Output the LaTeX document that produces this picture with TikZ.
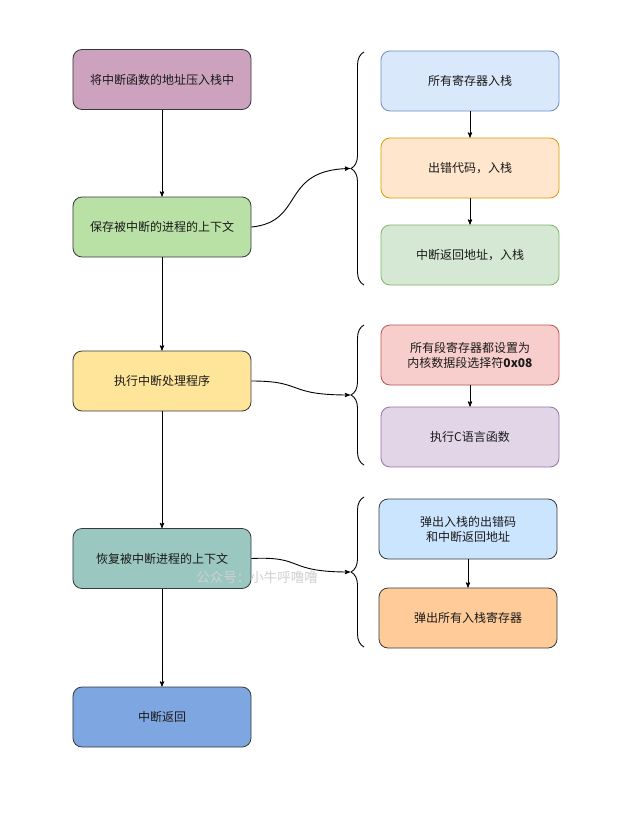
\documentclass[tikz,border=0pt]{standalone}
\usepackage{fontspec}
\newfontfamily\cjk{Noto Sans CJK SC}
\usetikzlibrary{arrows,shapes,positioning,decorations.pathreplacing}

\definecolor{edgegray}{HTML}{36393D}
\definecolor{txtgray}{HTML}{1A1A1A}

\tikzset{
  box/.style={draw=edgegray,rounded corners=9bp,minimum width=178bp,minimum height=60bp,
    align=center,font=\cjk\fontsize{12bp}{15bp}\selectfont,text=txtgray,line width=0.8pt},
  flow/.style={->,>=stealth',line width=0.9pt,black},
  grp/.style={decorate,decoration={brace,amplitude=13bp},line width=0.9pt}
}

\begin{document}
\begin{tikzpicture}[x=1bp,y=-1bp]
      % keep the page at the size of the reference
      \useasboundingbox (0,0) rectangle (629,815);

      % left column
      \node[box,fill={rgb,255:red,205;green,162;blue,190}] (push) at (162,79.5) {将中断函数的地址压入栈中};
      \node[box,fill={rgb,255:red,185;green,224;blue,165}] (save) at (162,227) {保存被中断的进程的上下文};
      \node[box,fill={rgb,255:red,255;green,229;blue,153}] (run) at (162,381) {执行中断处理程序};
      \node[box,fill={rgb,255:red,154;green,199;blue,191}] (restore) at (162,558.5) {恢复被中断进程的上下文};
      \node[box,fill={rgb,255:red,126;green,166;blue,224}] (ret) at (162,717) {中断返回};

      % right column, first group
      \node[box,draw={rgb,255:red,108;green,142;blue,191},fill={rgb,255:red,218;green,232;blue,252}] (regs) at (470,81) {所有寄存器入栈};
      \node[box,draw={rgb,255:red,215;green,155;blue,0},fill={rgb,255:red,255;green,230;blue,204}] (err) at (470,168) {出错代码，入栈};
      \node[box,draw={rgb,255:red,130;green,179;blue,102},fill={rgb,255:red,213;green,232;blue,212}] (addr) at (470,255) {中断返回地址，入栈};

      % right column, second group
      \node[box,draw={rgb,255:red,184;green,84;blue,80},fill={rgb,255:red,248;green,206;blue,204}] (seg) at (470,355) {所有段寄存器都设置为\\内核数据段选择符\textbf{0x08}};
      \node[box,draw={rgb,255:red,150;green,115;blue,166},fill={rgb,255:red,225;green,213;blue,231}] (cfun) at (470,437) {执行C语言函数};

      % right column, third group
      \node[box,fill={rgb,255:red,204;green,229;blue,255}] (pop) at (468,529) {弹出入栈的出错码\\和中断返回地址};
      \node[box,fill={rgb,255:red,255;green,204;blue,153}] (popall) at (468,618) {弹出所有入栈寄存器};

      % braces round each group
      \draw[grp] (364,285) -- (364,52);
      \draw[grp] (364,465) -- (364,325);
      \draw[grp] (364,647) -- (364,497);
      \coordinate (tipa) at (350,168.5);
      \coordinate (tipb) at (350,395);
      \coordinate (tipc) at (350,572);

      % main flow
      \draw[flow] (push) -- (save);
      \draw[flow] (save) -- (run);
      \draw[flow] (run) -- (restore);
      \draw[flow] (restore) -- (ret);

      % steps inside the groups
      \draw[flow] (regs) -- (err);
      \draw[flow] (err) -- (addr);
      \draw[flow] (seg) -- (cfun);
      \draw[flow] (pop) -- (popall);

      % links to the groups
      \draw[flow] (save.east) .. controls (305,222) and (280,170) .. (tipa);
      \draw[flow] (run.east) .. controls (305,381) and (285,395) .. (tipb);
      \draw[flow] (restore.east) .. controls (305,556) and (285,572) .. (tipc);

      % watermark
      \node[font=\cjk\fontsize{13.5bp}{15bp}\selectfont,text={rgb,255:red,208;green,208;blue,208}] (wm) at (257,577) {公众号：小牛呼噜噜};
    \end{tikzpicture}
\end{document}
